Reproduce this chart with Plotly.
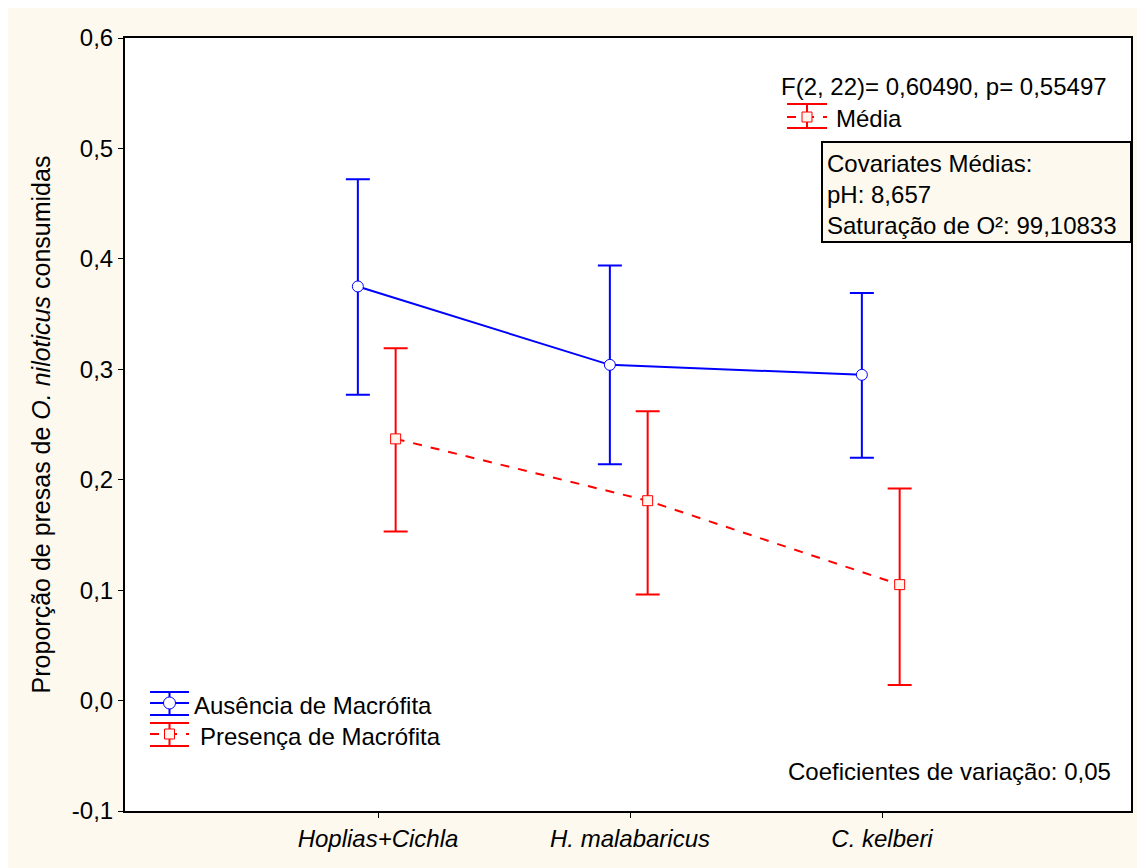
import plotly.graph_objects as go

categories = ["Hoplias+Cichla", "H. malabaricus", "C. kelberi"]
aus_mean = [0.375, 0.304, 0.295]
aus_upper = [0.472, 0.394, 0.369]
aus_lower = [0.277, 0.214, 0.220]
pres_mean = [0.237, 0.181, 0.105]
pres_upper = [0.319, 0.262, 0.192]
pres_lower = [0.153, 0.096, 0.014]
series_names = ["Ausência de Macrófita", "Presença de Macrófita"]
y_tick_vals = [-0.1, 0.0, 0.1, 0.2, 0.3, 0.4, 0.5, 0.6]
y_tick_text = ["-0,1", "0,0", "0,1", "0,2", "0,3", "0,4", "0,5", "0,6"]

W, H = 1145, 868
OFF = 8  # page body margin
SL, ST, SR, SB = 125, 38, 1131, 811  # plot box in screen pixels
L, T = SL - OFF, ST - OFF
R, B = W - (SR - OFF), H - (SB - OFF)

def px(x):
    return (x - SL) / (SR - SL)

def py(y):
    return (SB - y) / (SB - ST)

FONT = "Liberation Sans, Arial, sans-serif"
FS = 24
BLUE = "#0000ff"
RED = "#ff0000"
CREAM = "#fdf9ef"

idx = list(range(len(categories)))
xa = [i - 0.08 for i in idx]
xp = [i + 0.07 for i in idx]

fig = go.Figure()
fig.add_trace(go.Scatter(
    x=xa, y=aus_mean, mode="lines+markers", name=series_names[0],
    line=dict(color=BLUE, width=2),
    marker=dict(symbol="circle", size=11, color="white", line=dict(color=BLUE, width=1)),
    error_y=dict(type="data", symmetric=False,
                 array=[u - m for u, m in zip(aus_upper, aus_mean)],
                 arrayminus=[m - l for m, l in zip(aus_mean, aus_lower)],
                 color=BLUE, thickness=2, width=12),
    showlegend=False))
fig.add_trace(go.Scatter(
    x=xp, y=pres_mean, mode="lines+markers", name=series_names[1],
    line=dict(color=RED, width=2, dash="dash"),
    marker=dict(symbol="square", size=10, color="#fff4ec", line=dict(color=RED, width=1)),
    error_y=dict(type="data", symmetric=False,
                 array=[u - m for u, m in zip(pres_upper, pres_mean)],
                 arrayminus=[m - l for m, l in zip(pres_mean, pres_lower)],
                 color=RED, thickness=2, width=12),
    showlegend=False))

shapes = []
annotations = []

def glyph(x0, x1, yt, ym, yb, color, dashed, symbol):
    xm = (x0 + x1) / 2
    for yy in (yt, yb):
        shapes.append(dict(type="line", xref="paper", yref="paper", x0=px(x0), x1=px(x1),
                           y0=py(yy), y1=py(yy), line=dict(color=color, width=2)))
    shapes.append(dict(type="line", xref="paper", yref="paper", x0=px(xm), x1=px(xm),
                       y0=py(yt), y1=py(yb), line=dict(color=color, width=2)))
    shapes.append(dict(type="line", xref="paper", yref="paper", x0=px(x0), x1=px(x1),
                       y0=py(ym), y1=py(ym),
                       line=dict(color=color, width=2, dash="dash" if dashed else "solid")))
    r = 5
    if symbol == "circle":
        shapes.append(dict(type="circle", xref="paper", yref="paper",
                           x0=px(xm - r - 1), x1=px(xm + r + 1), y0=py(ym + r + 1), y1=py(ym - r - 1),
                           fillcolor="white", line=dict(color=color, width=1)))
    else:
        shapes.append(dict(type="rect", xref="paper", yref="paper",
                           x0=px(xm - r), x1=px(xm + r), y0=py(ym + r), y1=py(ym - r),
                           fillcolor="#fff4ec", line=dict(color=color, width=1)))

glyph(150, 189, 692, 703, 715, BLUE, False, "circle")
glyph(150, 189, 723, 734, 746, RED, True, "square")
glyph(787, 827, 104, 117, 128, RED, True, "square")

def text(x, y, s, anchor="left"):
    annotations.append(dict(x=px(x), y=py(y), xref="paper", yref="paper", text=s,
                            showarrow=False, xanchor=anchor, yanchor="middle",
                            borderpad=0,
                            font=dict(family=FONT, size=FS, color="black")))

text(193, 705, series_names[0])
text(199, 736, series_names[1])
text(780, 87, "F(2, 22)= 0,60490, p= 0,55497")
text(835, 118, "Média")
text(1112, 771, "Coeficientes de variação: 0,05", anchor="right")

# Covariates box
shapes.append(dict(type="rect", xref="paper", yref="paper",
                   x0=px(822), x1=px(1131), y0=py(242), y1=py(142),
                   fillcolor=CREAM, line=dict(color="black", width=2)))
text(826, 163, "Covariates Médias:")
text(826, 194, "pH: 8,657")
text(826, 225, "Saturação de O²: 99,10833")

fig.update_layout(
    width=W, height=H,
    margin=dict(l=L, r=R, t=T, b=B),
    paper_bgcolor=CREAM, plot_bgcolor="white",
    font=dict(family=FONT, size=FS, color="black"),
    shapes=shapes, annotations=annotations,
    xaxis=dict(range=[-1.004, 2.988], tickvals=idx,
               ticktext=["<i>%s</i>" % c for c in categories],
               showline=True, linecolor="black", linewidth=2, mirror=True,
               ticks="outside", tickcolor="black", ticklen=5, tickwidth=1,
               showgrid=False, zeroline=False, tickfont=dict(size=FS)),
    yaxis=dict(range=[-0.1, 0.6], tickvals=y_tick_vals, ticktext=y_tick_text,
               showline=True, linecolor="black", linewidth=2, mirror=True,
               ticks="outside", tickcolor="black", ticklen=5, tickwidth=1,
               showgrid=False, zeroline=False, tickfont=dict(size=FS),
               title=dict(text="Proporção de presas de <i>O. niloticus</i> consumidas",
                          font=dict(size=25), standoff=14)),
)

fig.write_html("out.html")
